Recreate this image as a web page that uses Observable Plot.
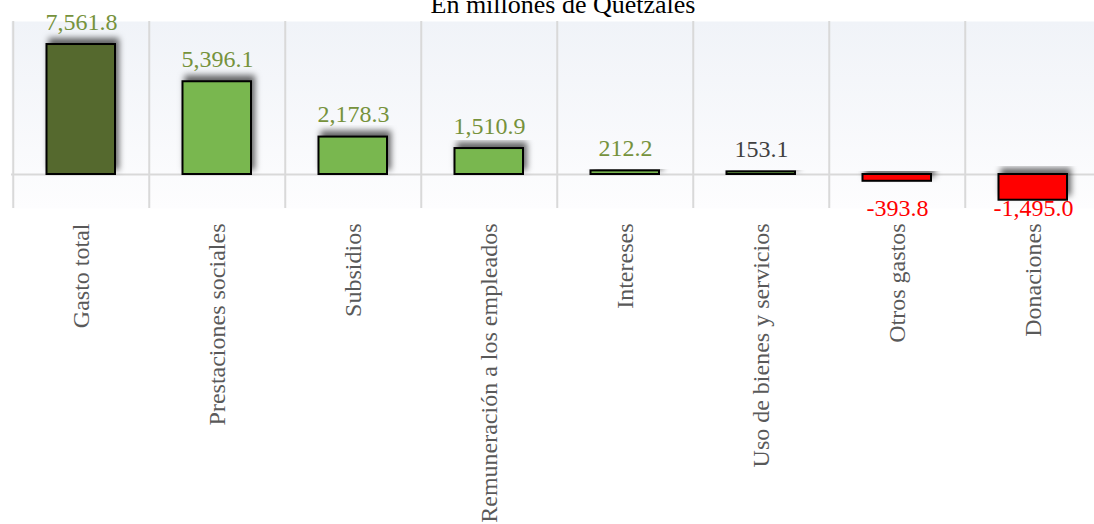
<!DOCTYPE html>
<html><head><meta charset="utf-8">
<script src="https://cdn.jsdelivr.net/npm/d3@7"></script>
<script src="https://cdn.jsdelivr.net/npm/@observablehq/plot@0.6"></script>
<style>html,body{margin:0;padding:0;background:#fff;overflow:hidden}</style>
</head><body><div id="chart"></div>
<script>
const title = "En millones de Quetzales";
const categories = ["Gasto total", "Prestaciones sociales", "Subsidios", "Remuneración a los empleados", "Intereses", "Uso de bienes y servicios", "Otros gastos", "Donaciones"];
const values = [7561.8, 5396.1, 2178.3, 1510.9, 212.2, 153.1, -393.8, -1495.0];
const separatorAfter = "Gasto total";
const yDomain = [-2000, 9000];
const separatorSpan = [9250, -1800];

const data = categories.map((name, i) => ({name, value: values[i], idx: i}));
const GREEN = "#79b74f", DARK = "#55692d", RED = "#ff0000", LABEL_GREEN = "#76923c", GRAY = "#404040";
const fmt = d3.formatLocale({decimal: ".", thousands: ",", grouping: [3], currency: ["", ""], minus: "-"}).format(",.1f");
const X0 = 11, X1 = 1103;
const half = (X1 - X0) / categories.length / 2;

const barFill = d => d.idx === 0 ? DARK : d.value < 0 ? RED : GREEN;
const labelFill = d => d.value < 0 ? RED : d.name === "Uso de bienes y servicios" ? GRAY : LABEL_GREEN;

const chart = Plot.plot({
  width: 1094, height: 524,
  marginTop: 21, marginBottom: 316, marginLeft: 11, marginRight: 0,
  style: {fontFamily: "'Liberation Serif', 'Times New Roman', serif", fontSize: "24px", background: "transparent", overflow: "hidden"},
  x: {domain: categories, range: [X0, X1], padding: 0},
  y: {domain: yDomain, range: [208.4, 19.3], axis: null},
  color: {type: "identity"},
  marks: [
    Plot.frame({fill: "url(#bgGrad)", stroke: null}),
    Plot.ruleX(categories, {x: d => d, dx: -half, stroke: "#d9d9d9", strokeWidth: 2}),
    Plot.ruleY([0], {stroke: "#d9d9d9", strokeWidth: 2}),
    Plot.barY(data, {x: "name", y: "value", fill: barFill, stroke: "#000", strokeWidth: 2, insetLeft: 33.5, insetRight: 34, ariaDescription: "bars"}),
    Plot.ruleX([separatorAfter], {x: d => d, dx: half, y1: separatorSpan[0], y2: separatorSpan[1], stroke: "#000", strokeWidth: 6, ariaDescription: "separator"}),
    Plot.text(data.filter(d => d.value >= 0), {x: "name", y: "value", text: d => fmt(d.value), lineAnchor: "bottom", dy: -15, fill: labelFill, fontSize: 24}),
    Plot.text(data.filter(d => d.value < 0), {x: "name", frameAnchor: "bottom", text: d => fmt(d.value), lineAnchor: "middle", dy: 0, fill: labelFill, fontSize: 24}),
    Plot.axisX({tickRotate: -90, tickSize: 0, tickPadding: 15, fontSize: 24, color: "#595959", label: null}),
    Plot.text([title], {frameAnchor: "top", dx: 10, dy: -17, lineAnchor: "middle", fontSize: 26, fill: "#000"})
  ]
});

const svg = d3.select(chart);
const defs = svg.insert("defs", ":first-child");
const g = defs.append("linearGradient").attr("id", "bgGrad").attr("x1", 0).attr("y1", 0).attr("x2", 0).attr("y2", 1);
g.append("stop").attr("offset", "0%").attr("stop-color", "#f0f3f8");
g.append("stop").attr("offset", "100%").attr("stop-color", "#fdfdfe");
const f = defs.append("filter").attr("id", "shadow").attr("x", "-20%").attr("y", "-30%").attr("width", "140%").attr("height", "160%");
f.append("feDropShadow").attr("dx", 3).attr("dy", -5).attr("stdDeviation", 3).attr("flood-color", "#000").attr("flood-opacity", 0.6);
svg.selectAll("g[aria-description=bars] rect, g[aria-description=separator] line").attr("filter", "url(#shadow)");
document.getElementById("chart").appendChild(chart);
</script>
</body></html>
